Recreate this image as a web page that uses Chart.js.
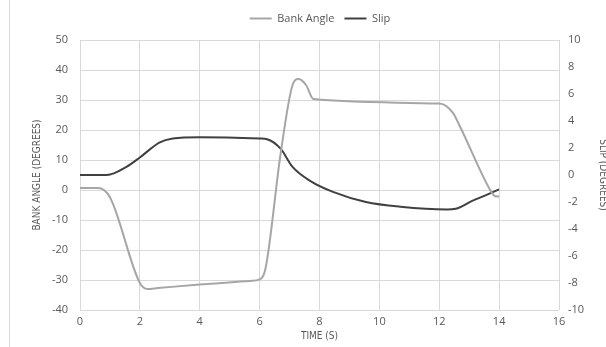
<!DOCTYPE html>
<html>
<head>
<meta charset="utf-8">
<script src="https://cdn.jsdelivr.net/npm/chart.js@4.4.0/dist/chart.umd.min.js"></script>
<style>
  html, body { margin: 0; padding: 0; background: #fff; overflow: hidden; }
  #wrap { position: relative; width: 609px; height: 347px; }
  #edge { position: absolute; left: 9px; top: 0; width: 1px; height: 347px; background: #d9d9d9; }
</style>
</head>
<body>
<div id="wrap">
  <canvas id="chart" width="609" height="347"></canvas>
  <div id="edge"></div>
</div>
<script>
// Bank angle (left axis, degrees)
const bankTime  = [0, 0.6, 1.0, 2.0, 2.25, 2.6, 4.0, 5.7, 6.0, 6.2, 6.7, 7.1, 7.3, 7.55, 7.8, 12.0, 12.45, 12.7, 13.7, 13.85, 14.0];
const bankAngle = [0.7, 0.7, -2.4, -31, -33, -32.7, -31.5, -30.3, -29.8, -26, 12, 35, 37, 35, 30.3, 28.8, 25.8, 21, 0, -2, -2.2];

// Slip (right axis, degrees)
const slipTime  = [0, 0.9, 1.55, 2.0, 2.65, 3.1, 4.0, 6.0, 6.25, 6.7, 7.1, 7.7, 8.45, 9.55, 10.7, 12.25, 12.55, 13.1, 13.6, 14.0];
const slipAngle = [0, 0, 0.6, 1.3, 2.4, 2.7, 2.8, 2.7, 2.65, 1.95, 0.6, -0.45, -1.25, -2.0, -2.35, -2.55, -2.5, -1.92, -1.45, -1.07];

const toPoints = (xs, ys) => xs.map((x, i) => ({ x: x, y: ys[i] }));

const tickFont  = { family: "'Open Sans', sans-serif", size: 11 };
const titleFont = { family: "'Liberation Sans Narrow', 'DejaVu Sans Condensed', sans-serif", size: 10 };
const gridColor = "#d9d9d9";
const textColor = "#595959";

// leave a little more room under the legend
const legendGap = {
    id: "legendGap",
    beforeInit(chart) {
        const fit = chart.legend.fit;
        chart.legend.fit = function () {
            fit.bind(chart.legend)();
            this.height += 6;
        };
    }
};

new Chart(document.getElementById("chart"), {
    type: "line",
    data: {
        datasets: [
            {
                label: "Bank Angle",
                data: toPoints(bankTime, bankAngle),
                borderColor: "#a6a6a6",
                backgroundColor: "#a6a6a6",
                borderWidth: 2,
                pointRadius: 0,
                cubicInterpolationMode: "monotone",
                yAxisID: "y"
            },
            {
                label: "Slip",
                data: toPoints(slipTime, slipAngle),
                borderColor: "#404040",
                backgroundColor: "#404040",
                borderWidth: 2,
                pointRadius: 0,
                cubicInterpolationMode: "monotone",
                yAxisID: "y1"
            }
        ]
    },
    options: {
        responsive: false,
        animation: false,
        layout: { padding: { left: 31, top: 3, right: 0, bottom: 0 } },
        plugins: {
            legend: {
                position: "top",
                labels: {
                    usePointStyle: true,
                    pointStyle: "line",
                    pointStyleWidth: 22,
                    color: textColor,
                    font: tickFont,
                    padding: 10
                }
            },
            tooltip: { enabled: false }
        },
        scales: {
            x: {
                type: "linear",
                min: 0, max: 16,
                ticks: { stepSize: 2, color: textColor, font: tickFont, padding: 5 },
                grid: { color: gridColor, drawTicks: false },
                border: { display: false },
                title: { display: true, text: "TIME (S)", color: textColor, font: titleFont, padding: { top: 0, bottom: 5 } },
                afterFit: s => { s.height = 37; }
            },
            y: {
                position: "left",
                min: -40, max: 50,
                ticks: { stepSize: 10, color: textColor, font: tickFont, padding: 12 },
                grid: { color: gridColor, drawTicks: false },
                border: { display: false },
                title: { display: true, text: "BANK ANGLE (DEGREES)", color: textColor, font: titleFont, padding: { top: 0, bottom: 0 } },
                afterFit: s => { s.width = 49; }
            },
            y1: {
                position: "right",
                min: -10, max: 10,
                ticks: { stepSize: 2, color: textColor, font: tickFont, padding: 9 },
                grid: { drawOnChartArea: false, drawTicks: false },
                border: { display: false },
                title: { display: true, text: "SLIP (DEGREES)", color: textColor, font: titleFont, padding: { top: 0, bottom: 0 } },
                afterFit: s => { s.width = 50; }
            }
        }
    },
    plugins: [legendGap]
});
</script>
</body>
</html>
